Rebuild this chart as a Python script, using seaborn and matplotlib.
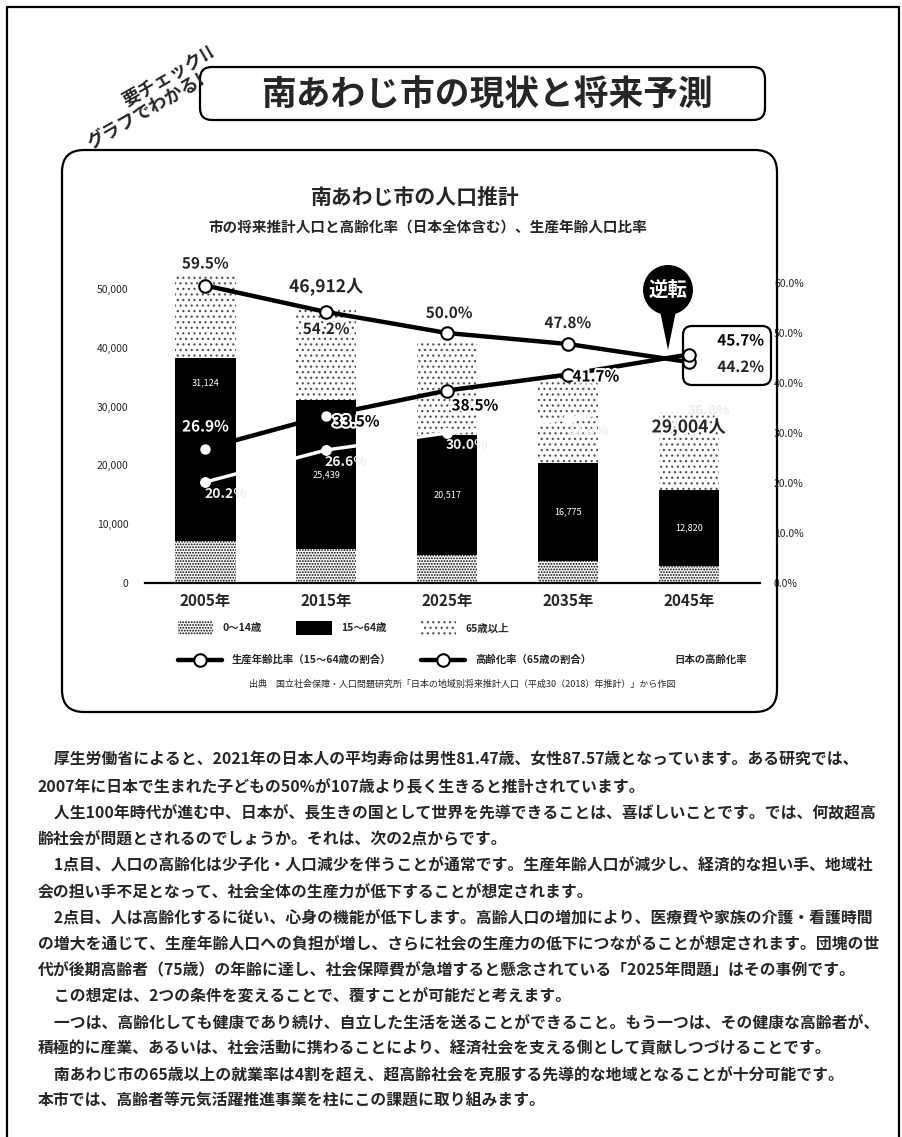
import numpy as np
import pandas as pd
import matplotlib
matplotlib.use("Agg")
import matplotlib.pyplot as plt
import matplotlib.patheffects as pe
from matplotlib.patches import FancyBboxPatch, Circle, Polygon, Patch
from matplotlib.lines import Line2D
from matplotlib.transforms import IdentityTransform
import seaborn as sns

# ---- data -------------------------------------------------------------
years = ["2005年", "2015年", "2025年", "2035年", "2045年"]
pop_0_14 = [7096, 5757, 4719, 3685, 2929]
pop_15_64 = [31124, 25439, 20517, 16775, 12820]
pop_65_over = [14063, 15716, 15798, 14634, 13255]
working_ratio = [59.5, 54.2, 50.0, 47.8, 44.2]      # 生産年齢比率
aging_rate = [26.9, 33.5, 38.5, 41.7, 45.7]         # 高齢化率（市）
japan_aging_rate = [20.2, 26.6, 30.0, 32.8, 36.8]   # 日本の高齢化率
left_ticks = [0, 10000, 20000, 30000, 40000, 50000]
right_ticks = [0, 10, 20, 30, 40, 50, 60]
total_label_idx = [1, 4]

header_title = "南あわじ市の現状と将来予測"
badge_lines = ["要チェック!!", "グラフでわかる!"]
chart_title = "南あわじ市の人口推計"
chart_subtitle = "市の将来推計人口と高齢化率（日本全体含む）、生産年齢人口比率"
source_note = "出典　国立社会保障・人口問題研究所「日本の地域別将来推計人口（平成30（2018）年推計）」から作図"
body_lines = [
    "　厚生労働省によると、2021年の日本人の平均寿命は男性81.47歳、女性87.57歳となっています。ある研究では、",
    "2007年に日本で生まれた子どもの50%が107歳より長く生きると推計されています。",
    "　人生100年時代が進む中、日本が、長生きの国として世界を先導できることは、喜ばしいことです。では、何故超高",
    "齢社会が問題とされるのでしょうか。それは、次の2点からです。",
    "　1点目、人口の高齢化は少子化・人口減少を伴うことが通常です。生産年齢人口が減少し、経済的な担い手、地域社",
    "会の担い手不足となって、社会全体の生産力が低下することが想定されます。",
    "　2点目、人は高齢化するに従い、心身の機能が低下します。高齢人口の増加により、医療費や家族の介護・看護時間",
    "の増大を通じて、生産年齢人口への負担が増し、さらに社会の生産力の低下につながることが想定されます。団塊の世",
    "代が後期高齢者（75歳）の年齢に達し、社会保障費が急増すると懸念されている「2025年問題」はその事例です。",
    "　この想定は、2つの条件を変えることで、覆すことが可能だと考えます。",
    "　一つは、高齢化しても健康であり続け、自立した生活を送ることができること。もう一つは、その健康な高齢者が、",
    "積極的に産業、あるいは、社会活動に携わることにより、経済社会を支える側として貢献しつづけることです。",
    "　南あわじ市の65歳以上の就業率は4割を超え、超高齢社会を克服する先導的な地域となることが十分可能です。",
    "本市では、高齢者等元気活躍推進事業を柱にこの課題に取り組みます。",
]

# ---- style ------------------------------------------------------------
sns.set_style("white")
FAMILY = ["Noto Sans CJK JP", "DejaVu Sans"]
plt.rcParams["font.family"] = FAMILY
plt.rcParams["hatch.linewidth"] = 0.9

W, H = 903, 1137
fig = plt.figure(figsize=(W / 100, H / 100), dpi=100)
fig.patch.set_facecolor("white")
PX = IdentityTransform()


def fx(x):
    return x / W


def fy(y):
    return 1 - y / H


# page frame (left, top, right)
fig.add_artist(Line2D([7, 7, 899, 899], [-5, H - 7, H - 7, -5],
                      transform=PX, color="black", lw=1.6))

# header banner
fig.add_artist(FancyBboxPatch((200, H - 120), 565, 53,
                              boxstyle="round,pad=0,rounding_size=12",
                              transform=PX, fc="white", ec="black", lw=1.6))
fig.text(fx(487), fy(95), header_title, fontsize=25, fontweight="bold",
         ha="center", va="center")
fig.text(fx(168), fy(76), badge_lines[0], fontsize=13, fontweight="bold",
         rotation=30, ha="center", va="center", zorder=5)
fig.text(fx(146), fy(112), badge_lines[1], fontsize=13, fontweight="bold",
         rotation=30, ha="center", va="center", zorder=5)

# chart panel
fig.add_artist(FancyBboxPatch((62, H - 712), 715, 562,
                              boxstyle="round,pad=0,rounding_size=22",
                              transform=PX, fc="none", ec="black", lw=1.6))
fig.text(fx(415), fy(197), chart_title, fontsize=15, fontweight="bold",
         ha="center", va="center")
fig.text(fx(428), fy(227), chart_subtitle, fontsize=10.5, fontweight="bold",
         ha="center", va="center")

# ---- stacked bars -----------------------------------------------------
df = pd.DataFrame({"year": years, "p0_14": pop_0_14, "p15_64": pop_15_64,
                   "p65": pop_65_over})
df["lower2"] = df["p0_14"] + df["p15_64"]
df["total"] = df["lower2"] + df["p65"]

ax = fig.add_axes([fx(145), fy(583), (760 - 145) / W, 325 / H])
ax.patch.set_alpha(0)
HATCH_YOUNG = "......"
HATCH_OLD = "..."
sns.barplot(data=df, x="year", y="total", ax=ax, color="white", saturation=1,
            width=0.5, edgecolor="#555555", linewidth=0, hatch=HATCH_OLD)
sns.barplot(data=df, x="year", y="lower2", ax=ax, color="black", saturation=1,
            width=0.5, edgecolor="black", linewidth=0)
sns.barplot(data=df, x="year", y="p0_14", ax=ax, color="white", saturation=1,
            width=0.5, edgecolor="black", linewidth=0, hatch=HATCH_YOUNG)

for i, row in df.iterrows():
    shift = 67 if i == 0 else 0
    ax.annotate(f"{row['p15_64']:,}", (i, row["p0_14"] + row["p15_64"] / 2),
                xytext=(0, shift), textcoords="offset pixels", color="white",
                fontsize=6.5, ha="center", va="center")
for i in total_label_idx:
    tot = int(df.loc[i, "total"])
    dy = 20 if i == 1 else -15
    ax.annotate(f"{tot:,}人", (i, tot), xytext=(0, dy), textcoords="offset pixels",
                fontsize=12.5, fontweight="bold", ha="center", va="center",
                zorder=8,
                path_effects=[pe.withStroke(linewidth=3, foreground="white")])

ax.set_ylim(0, 55273)
ax.set_yticks(left_ticks)
ax.set_yticklabels([f"{v:,}" for v in left_ticks])
ax.tick_params(axis="y", length=0, pad=12, labelsize=7.5)
ax.tick_params(axis="x", length=0, pad=7, labelsize=11)
for lab in ax.get_xticklabels():
    lab.set_fontweight("bold")
ax.set_xlabel("")
ax.set_ylabel("")
for s in ["left", "right", "top"]:
    ax.spines[s].set_visible(False)
ax.spines["bottom"].set_color("black")
ax.spines["bottom"].set_linewidth(1.6)

# ---- ratio lines --------------------------------------------------------
ax2 = ax.twinx()
pos = np.arange(len(years))
sns.lineplot(x=pos, y=japan_aging_rate, ax=ax2, color="white", lw=2.5,
             marker="o", markersize=7, markerfacecolor="white",
             markeredgecolor="white")
line_kw = dict(color="black", lw=3.2, marker="o", markersize=9,
               markerfacecolor="white", markeredgecolor="black",
               markeredgewidth=1.5)
sns.lineplot(x=pos, y=working_ratio, ax=ax2, **line_kw)
sns.lineplot(x=pos, y=aging_rate, ax=ax2, **line_kw)
ax2.set_ylim(0, 65)
ax2.set_yticks(right_ticks)
ax2.set_yticklabels([f"{v:.1f}%" for v in right_ticks])
ax2.tick_params(axis="y", length=0, pad=10, labelsize=7.5)
ax2.set_ylabel("")
for s in ax2.spines.values():
    s.set_visible(False)

halo = [pe.withStroke(linewidth=3, foreground="white")]
work_off = [(0, 22), (0, -17), (2, 20), (0, 21), (52, -5)]
aging_off = [(0, 22), (30, -6), (28, -15), (28, -2), (52, 14)]
for i, v in enumerate(working_ratio):
    ax2.annotate(f"{v:.1f}%", (i, v), xytext=work_off[i], textcoords="offset pixels",
                 fontsize=11, fontweight="bold", ha="center", va="center",
                 path_effects=halo, zorder=8)
for i, v in enumerate(aging_rate):
    if i == 0:
        kw = dict(color="white",
                  path_effects=[pe.withStroke(linewidth=2.5, foreground="black")])
    else:
        kw = dict(color="black", path_effects=halo)
    ax2.annotate(f"{v:.1f}%", (i, v), xytext=aging_off[i], textcoords="offset pixels",
                 fontsize=11, fontweight="bold", ha="center", va="center",
                 zorder=8, **kw)
for i, v in enumerate(japan_aging_rate):
    ax2.annotate(f"{v:.1f}%", (i, v), xytext=(20, -12), textcoords="offset pixels",
                 fontsize=10, fontweight="bold", ha="center", va="center",
                 color="#eeeeee", zorder=7)

ax.set_xlim(-0.5, 4.59)

# end-value box and 逆転 callout
fig.add_artist(FancyBboxPatch((683, H - 385), 88, 59,
                              boxstyle="round,pad=0,rounding_size=9",
                              transform=PX, fc="none", ec="black", lw=1.6,
                              zorder=6))
fig.add_artist(Polygon([(659, H - 306), (677, H - 306), (668, H - 350)],
                       closed=True, transform=PX, fc="black", ec="none", zorder=6))
fig.add_artist(Circle((668, H - 290), 25, transform=PX, fc="black", ec="none",
                      zorder=6))
fig.text(fx(668), fy(290), "逆転", color="white", fontsize=14, fontweight="bold",
         ha="center", va="center", zorder=7)

# ---- legends ---------------------------------------------------------------
leg_prop = {"family": FAMILY, "weight": "bold", "size": 7.5}
h1 = [Patch(fc="white", ec="black", lw=0, hatch=HATCH_YOUNG, label="0〜14歳"),
      Patch(fc="black", ec="black", lw=0, label="15〜64歳"),
      Patch(fc="white", ec="#555555", lw=0, hatch=HATCH_OLD, label="65歳以上")]
fig.legend(handles=h1, loc="center left", bbox_to_anchor=(fx(178), fy(628)),
           ncol=3, frameon=False, prop=leg_prop, handlelength=3.4,
           handleheight=1.6, handletextpad=0.9, columnspacing=3.3,
           borderpad=0, borderaxespad=0)
h2 = [Line2D([0], [0], label="生産年齢比率（15〜64歳の割合）", **line_kw),
      Line2D([0], [0], label="高齢化率（65歳の割合）", **line_kw),
      Line2D([0], [0], color="white", lw=2.5, marker="o", markersize=7,
             markerfacecolor="white", markeredgecolor="white",
             label="日本の高齢化率")]
fig.legend(handles=h2, loc="center left", bbox_to_anchor=(fx(178), fy(660)),
           ncol=3, frameon=False, prop=leg_prop, handlelength=4.2,
           handletextpad=1.0, columnspacing=2.8, borderpad=0, borderaxespad=0)
fig.text(fx(462), fy(684), source_note, fontsize=6.5, ha="center", va="center")

# ---- body text ---------------------------------------------------------------
for k, line in enumerate(body_lines):
    fig.text(fx(38), fy(760 + 26.2 * k), line, fontsize=11.4, fontweight="bold",
             ha="left", va="center")

fig.savefig("out.png", dpi=100)
